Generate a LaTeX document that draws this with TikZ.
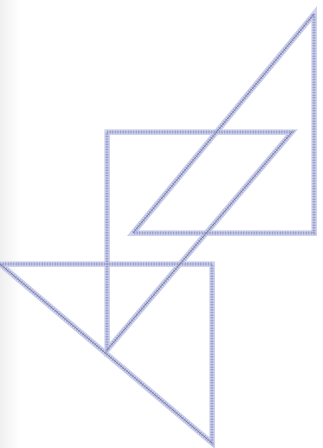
\documentclass[tikz,border=0pt]{standalone}
\definecolor{bandcol}{RGB}{206,210,238}
\definecolor{dotcol}{RGB}{165,171,218}
\definecolor{corecol}{RGB}{110,112,130}
\begin{document}
\begin{tikzpicture}[x=1pt,y=-1pt,line join=miter,
  band/.style={draw=bandcol,line width=5.5pt},
  stipple/.style={draw=dotcol,line width=3.2pt,dash pattern=on 1.2pt off 1.4pt},
  core/.style={draw=corecol,line width=0.4pt}]
\useasboundingbox (0,0) rectangle (322,448);
\fill[white] (0,0) rectangle (322,448);
\shade[left color=black!6,right color=white] (0,0) rectangle (20,448);
% triangle 1 (top right)
\coordinate (A) at (314,14);
\coordinate (B) at (314,233);
\coordinate (C) at (133,233);
% triangle 2 (middle, right angle top-left)
\coordinate (D) at (107,132);
\coordinate (E) at (292,132);
\coordinate (F) at (107,350);
% triangle 3 (bottom)
\coordinate (G) at (0,264);
\coordinate (H) at (212,264);
\coordinate (I) at (212,443);
\foreach \s in {band,stipple,core}{
  \draw[\s] (A) -- (B) -- (C) -- cycle;
  \draw[\s] (D) -- (E) -- (F) -- cycle;
  \draw[\s] (G) -- (H) -- (I) -- cycle;
}
\end{tikzpicture}
\end{document}
